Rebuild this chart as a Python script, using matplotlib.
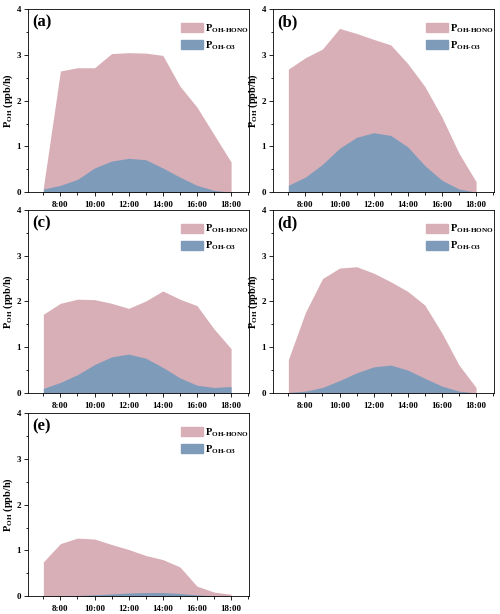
import numpy as np
import matplotlib
matplotlib.use('Agg')
import matplotlib.pyplot as plt
from matplotlib.patches import Patch
from matplotlib.ticker import MultipleLocator

plt.rcParams['font.family'] = 'Liberation Serif'
plt.rcParams['font.weight'] = 'bold'
plt.rcParams['mathtext.fontset'] = 'custom'
plt.rcParams['mathtext.rm'] = 'Liberation Serif:bold'
plt.rcParams['mathtext.it'] = 'Liberation Serif:bold'
plt.rcParams['mathtext.bf'] = 'Liberation Serif:bold'

# hours of the day
hours = [7, 8, 9, 10, 11, 12, 13, 14, 15, 16, 17, 18]
tick_hours = [8, 10, 12, 14, 16, 18]
tick_labels = ['8:00', '10:00', '12:00', '14:00', '16:00', '18:00']
panel_names = ['(a)', '(b)', '(c)', '(d)', '(e)']

# P_OH from HONO (ppb/h)
hono_a = [0.10, 2.65, 2.72, 2.72, 3.03, 3.05, 3.04, 2.99, 2.32, 1.86, 1.26, 0.66]
hono_b = [2.69, 2.94, 3.13, 3.58, 3.47, 3.34, 3.22, 2.81, 2.31, 1.64, 0.85, 0.23]
hono_c = [1.72, 1.96, 2.05, 2.04, 1.96, 1.85, 2.01, 2.23, 2.05, 1.91, 1.40, 0.97]
hono_d = [0.73, 1.76, 2.50, 2.73, 2.76, 2.62, 2.43, 2.22, 1.92, 1.31, 0.61, 0.12]
hono_e = [0.75, 1.15, 1.27, 1.25, 1.13, 1.02, 0.89, 0.80, 0.64, 0.22, 0.09, 0.04]

# P_OH from O3 (ppb/h)
o3_a = [0.07, 0.15, 0.28, 0.53, 0.68, 0.74, 0.71, 0.53, 0.33, 0.15, 0.04, 0.00]
o3_b = [0.15, 0.33, 0.61, 0.96, 1.20, 1.30, 1.24, 0.99, 0.58, 0.26, 0.07, 0.00]
o3_c = [0.10, 0.23, 0.40, 0.62, 0.79, 0.85, 0.76, 0.56, 0.33, 0.17, 0.12, 0.14]
o3_d = [0.01, 0.04, 0.12, 0.27, 0.44, 0.57, 0.61, 0.50, 0.32, 0.15, 0.04, 0.00]
o3_e = [0.00, 0.01, 0.015, 0.03, 0.05, 0.07, 0.08, 0.08, 0.06, 0.03, 0.01, 0.00]

hono_all = [hono_a, hono_b, hono_c, hono_d, hono_e]
o3_all = [o3_a, o3_b, o3_c, o3_d, o3_e]

pink = '#d8aeb7'
blue = '#7e9cba'

fig = plt.figure(figsize=(5, 6.14), dpi=100)

# axes boxes in figure fraction
lefts = [0.056, 0.546]
bottoms = [0.687, 0.360, 0.029]
w, h = 0.442, 0.298

for i in range(5):
    row, col = i // 2, i % 2
    ax = fig.add_axes([lefts[col], bottoms[row], w, h])
    ax.fill_between(hours, 0, hono_all[i], color=pink, linewidth=0)
    ax.fill_between(hours, 0, o3_all[i], color=blue, linewidth=0)

    ax.set_xlim(6.1, 19.05)
    ax.set_ylim(0, 4)
    ax.set_xticks(tick_hours)
    ax.set_xticklabels(tick_labels)
    ax.xaxis.set_minor_locator(MultipleLocator(1))
    ax.yaxis.set_major_locator(MultipleLocator(1))
    ax.yaxis.set_minor_locator(MultipleLocator(0.5))
    ax.tick_params(which='both', direction='out', labelsize=6.5, width=0.6)
    ax.tick_params(which='major', length=3)
    ax.tick_params(which='minor', length=1.8)
    ax.tick_params(axis='y', pad=2)
    for s in ax.spines.values():
        s.set_linewidth(0.6)
    ax.set_ylabel(r'$\mathrm{P}_{\mathrm{OH}}$ (ppb/h)', fontsize=7.5, fontweight='bold', labelpad=1)

    ax.text(0.02, 0.97, panel_names[i], transform=ax.transAxes, fontsize=12,
            fontweight='bold', va='top', ha='left')

    handles = [Patch(color=pink, label=r'$\mathrm{P}_{\mathrm{OH\text{-}HONO}}$'),
               Patch(color=blue, label=r'$\mathrm{P}_{\mathrm{OH\text{-}O3}}$')]
    ax.legend(handles=handles, loc='upper right', bbox_to_anchor=(1.0, 0.93),
              frameon=False, fontsize=7.5, handlelength=2.1, handleheight=1.0,
              handletextpad=0.2, labelspacing=0.45, borderaxespad=0, borderpad=0)

fig.savefig('out.png', dpi=100)
